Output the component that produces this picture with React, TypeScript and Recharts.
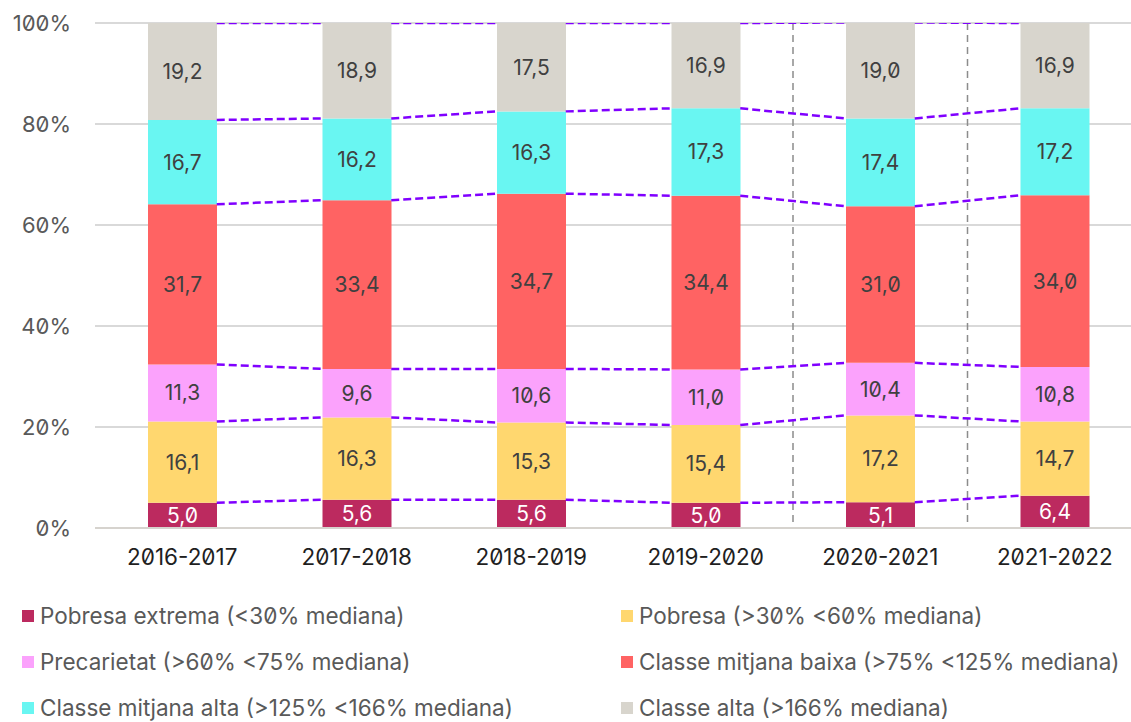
import {
  Bar,
  CartesianGrid,
  ComposedChart,
  LabelList,
  Legend,
  Line,
  ReferenceArea,
  XAxis,
  YAxis,
} from 'recharts';

const years = ['2016-2017', '2017-2018', '2018-2019', '2019-2020', '2020-2021', '2021-2022'];

const pobresaExtrema = [5.0, 5.6, 5.6, 5.0, 5.1, 6.4];
const pobresa = [16.1, 16.3, 15.3, 15.4, 17.2, 14.7];
const precarietat = [11.3, 9.6, 10.6, 11.0, 10.4, 10.8];
const mitjanaBaixa = [31.7, 33.4, 34.7, 34.4, 31.0, 34.0];
const mitjanaAlta = [16.7, 16.2, 16.3, 17.3, 17.4, 17.2];
const classeAlta = [19.2, 18.9, 17.5, 16.9, 19.0, 16.9];

const yTicks = [0, 20, 40, 60, 80, 100];

const series = [
  { key: 'extrema', name: 'Pobresa extrema (<30% mediana)', values: pobresaExtrema, color: '#bc2a5f', text: '#ffffff' },
  { key: 'pobresa', name: 'Pobresa (>30% <60% mediana)', values: pobresa, color: '#ffd76f', text: '#404040' },
  { key: 'precarietat', name: 'Precarietat (>60% <75% mediana)', values: precarietat, color: '#fba2fc', text: '#404040' },
  { key: 'baixa', name: 'Classe mitjana baixa (>75% <125% mediana)', values: mitjanaBaixa, color: '#ff6363', text: '#404040' },
  { key: 'mAlta', name: 'Classe mitjana alta (>125% <166% mediana)', values: mitjanaAlta, color: '#69f6f2', text: '#404040' },
  { key: 'alta', name: 'Classe alta (>166% mediana)', values: classeAlta, color: '#d8d5cd', text: '#404040' },
];

const data = years.map((year, i) => {
  const row: Record<string, number | string> = { year };
  series.forEach((s) => (row[s.key] = s.values[i]));
  return row;
});

// layout
const CHART_W = 1150;
const CHART_H = 722;
const Y_AXIS_W = 95;
const MARGIN = { top: 23, right: 8, bottom: 0, left: 0 };
const BAR_SIZE = 69;
const step = (CHART_W - MARGIN.left - MARGIN.right - Y_AXIS_W) / years.length;
const half = BAR_SIZE / 2 / step;

// series lines: join the top of each segment from one bar edge to the next
const seriesLines = series.map((_, k) => {
  const cum = years.map((__, i) => series.slice(0, k + 1).reduce((a, s) => a + s.values[i], 0));
  const pts: { x: number; y: number | null }[] = [];
  for (let i = 0; i < years.length - 1; i++) {
    pts.push({ x: i + half, y: cum[i] });
    pts.push({ x: i + 1 - half, y: cum[i + 1] });
    pts.push({ x: i + 1, y: null });
  }
  return pts;
});

const fmt = (v: any) => Number(v).toFixed(1).replace('.', ',');

const LegendBox = () => (
  <div
    style={{
      display: 'grid',
      gridTemplateColumns: '599px 1fr',
      gridAutoRows: '46px',
      paddingLeft: 22,
      paddingTop: 3,
      height: 132,
      boxSizing: 'border-box',
      fontSize: 22.5,
      lineHeight: '26px',
      color: '#595959',
    }}
  >
    {series.map((s) => (
      <div key={s.key} style={{ display: 'flex', alignItems: 'center', whiteSpace: 'nowrap' }}>
        <span style={{ width: 12, height: 12, background: s.color, marginRight: 6, display: 'inline-block' }} />
        <span>{s.name}</span>
      </div>
    ))}
  </div>
);

const DividerLines = (p: any) => (
  <g>
    <line x1={p.x} y1={p.y} x2={p.x} y2={p.y + p.height} stroke="#8c8c8c" strokeWidth={1.5} strokeDasharray="7 5" />
    <line
      x1={p.x + p.width}
      y1={p.y}
      x2={p.x + p.width}
      y2={p.y + p.height}
      stroke="#8c8c8c"
      strokeWidth={1.5}
      strokeDasharray="7 5"
    />
  </g>
);

export default function App() {
  return (
    <div
      style={{
        position: 'fixed',
        left: 0,
        top: 0,
        width: 1131,
        height: 722,
        overflow: 'hidden',
        background: '#fff',
        fontFamily: 'Inter, sans-serif',
        fontFeatureSettings: '"zero" 1',
      }}
    >
      <ComposedChart width={CHART_W} height={CHART_H} data={data} margin={MARGIN}>
        <CartesianGrid xAxisId="cat" vertical={false} stroke="#d9d9d9" strokeWidth={2} />
        <XAxis
          xAxisId="cat"
          dataKey="year"
          height={62}
          tickLine={false}
          tickSize={0}
          tickMargin={21}
          axisLine={{ stroke: '#d6d3ce', strokeWidth: 2 }}
          tick={{ fill: '#1f1f1f', fontSize: 22.5 }}
        />
        <XAxis xAxisId="num" type="number" dataKey="x" domain={[-0.5, years.length - 0.5]} allowDataOverflow hide />
        <YAxis
          width={Y_AXIS_W}
          domain={[0, 100]}
          ticks={yTicks}
          allowDataOverflow
          axisLine={false}
          tickLine={false}
          tickSize={0}
          tickMargin={24}
          tick={{ fill: '#595959', fontSize: 22 }}
          tickFormatter={(v) => `${v}%`}
        />
        <ReferenceArea xAxisId="cat" x1="2020-2021" x2="2020-2021" shape={DividerLines} />
        {series.map((s) => (
          <Bar
            key={s.key}
            xAxisId="cat"
            dataKey={s.key}
            stackId="a"
            fill={s.color}
            barSize={BAR_SIZE}
            isAnimationActive={false}
          >
            <LabelList dataKey={s.key} position="center" fill={s.text} fontSize={21} formatter={fmt} />
          </Bar>
        ))}
        {seriesLines.map((pts, k) => (
          <Line
            key={`sl-${k}`}
            xAxisId="num"
            data={pts}
            dataKey="y"
            stroke="#8000ff"
            strokeWidth={2.5}
            strokeDasharray="8 4"
            dot={false}
            activeDot={false}
            connectNulls={false}
            isAnimationActive={false}
            legendType="none"
          />
        ))}
        <Legend content={<LegendBox />} wrapperStyle={{ left: 0, bottom: 0, width: 1131, height: 132 }} />
      </ComposedChart>
    </div>
  );
}
